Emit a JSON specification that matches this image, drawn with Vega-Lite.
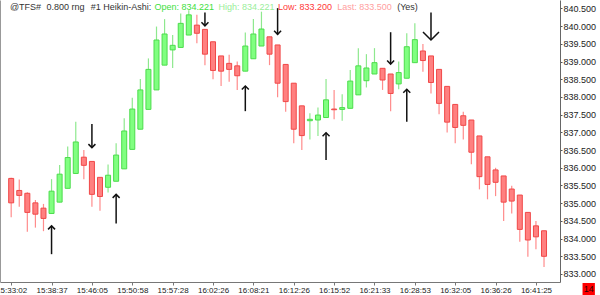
{
  "$schema": "https://vega.github.io/schema/vega-lite/v6.json",
  "width": 560,
  "height": 282,
  "autosize": {"type": "none"},
  "padding": {"left": 0, "top": 0, "right": 40, "bottom": 13},
  "background": "white",
  "config": {"view": {"stroke": null}, "font": "Liberation Sans"},
  "datasets": {
    "bars": [
      {"i":0,"o":835.70,"h":835.72,"l":834.60,"c":835.01},
      {"i":1,"o":835.36,"h":835.67,"l":834.90,"c":835.22},
      {"i":2,"o":835.28,"h":835.31,"l":834.19,"c":834.74},
      {"i":3,"o":835.01,"h":835.09,"l":834.31,"c":834.69},
      {"i":4,"o":834.86,"h":834.98,"l":834.21,"c":834.57},
      {"i":5,"o":834.71,"h":835.68,"l":834.71,"c":835.34},
      {"i":6,"o":835.03,"h":836.08,"l":835.03,"c":835.82},
      {"i":7,"o":835.42,"h":836.60,"l":835.42,"c":836.29},
      {"i":8,"o":835.84,"h":837.30,"l":835.84,"c":836.73},
      {"i":9,"o":836.30,"h":836.50,"l":835.68,"c":836.07},
      {"i":10,"o":836.18,"h":836.18,"l":834.90,"c":835.25},
      {"i":11,"o":835.73,"h":835.73,"l":834.79,"c":835.19},
      {"i":12,"o":835.45,"h":836.09,"l":835.30,"c":835.79},
      {"i":13,"o":835.62,"h":836.69,"l":835.62,"c":836.36},
      {"i":14,"o":835.97,"h":837.40,"l":835.97,"c":837.04},
      {"i":15,"o":836.52,"h":837.98,"l":836.52,"c":837.66},
      {"i":16,"o":837.09,"h":838.51,"l":837.09,"c":838.20},
      {"i":17,"o":837.65,"h":839.09,"l":837.65,"c":838.78},
      {"i":18,"o":838.20,"h":839.99,"l":838.20,"c":839.61},
      {"i":19,"o":838.90,"h":840.20,"l":838.90,"c":839.78},
      {"i":20,"o":839.33,"h":839.75,"l":838.82,"c":839.46},
      {"i":21,"o":839.40,"h":840.36,"l":839.40,"c":840.08},
      {"i":22,"o":839.75,"h":840.45,"l":839.75,"c":840.32},
      {"i":23,"o":840.03,"h":840.32,"l":839.52,"c":839.80},
      {"i":24,"o":839.91,"h":839.91,"l":838.90,"c":839.21},
      {"i":25,"o":839.56,"h":839.56,"l":838.50,"c":838.75},
      {"i":26,"o":839.16,"h":839.16,"l":838.31,"c":838.73},
      {"i":27,"o":838.95,"h":839.19,"l":838.43,"c":838.78},
      {"i":28,"o":838.88,"h":839.00,"l":838.20,"c":838.60},
      {"i":29,"o":838.73,"h":839.82,"l":838.73,"c":839.44},
      {"i":30,"o":839.08,"h":840.20,"l":839.08,"c":839.78},
      {"i":31,"o":839.44,"h":840.41,"l":839.44,"c":839.92},
      {"i":32,"o":839.70,"h":839.70,"l":838.90,"c":839.21},
      {"i":33,"o":839.47,"h":839.47,"l":837.99,"c":838.39},
      {"i":34,"o":838.92,"h":838.92,"l":837.58,"c":837.87},
      {"i":35,"o":838.39,"h":838.39,"l":836.69,"c":837.09},
      {"i":36,"o":837.75,"h":837.75,"l":836.50,"c":836.91},
      {"i":37,"o":837.33,"h":837.54,"l":836.80,"c":837.37},
      {"i":38,"o":837.35,"h":837.70,"l":836.90,"c":837.49},
      {"i":39,"o":837.42,"h":838.51,"l":837.42,"c":837.92},
      {"i":40,"o":837.66,"h":838.20,"l":837.37,"c":837.64},
      {"i":41,"o":837.65,"h":838.08,"l":837.33,"c":837.70},
      {"i":42,"o":837.68,"h":838.76,"l":837.68,"c":838.45},
      {"i":43,"o":838.06,"h":839.38,"l":838.06,"c":838.88},
      {"i":44,"o":838.46,"h":839.21,"l":838.27,"c":838.82},
      {"i":45,"o":838.65,"h":839.38,"l":838.65,"c":838.97},
      {"i":46,"o":838.81,"h":838.81,"l":838.20,"c":838.48},
      {"i":47,"o":838.65,"h":838.65,"l":837.60,"c":838.10},
      {"i":48,"o":838.37,"h":839.00,"l":838.22,"c":838.69},
      {"i":49,"o":838.53,"h":839.80,"l":838.53,"c":839.42},
      {"i":50,"o":838.97,"h":840.08,"l":838.97,"c":839.62},
      {"i":51,"o":839.30,"h":839.50,"l":838.71,"c":839.03},
      {"i":52,"o":839.16,"h":839.16,"l":838.10,"c":838.41},
      {"i":53,"o":838.78,"h":838.78,"l":837.51,"c":837.82},
      {"i":54,"o":838.30,"h":838.30,"l":837.00,"c":837.29},
      {"i":55,"o":837.79,"h":837.79,"l":836.69,"c":837.14},
      {"i":56,"o":837.47,"h":837.58,"l":836.80,"c":837.20},
      {"i":57,"o":837.35,"h":837.35,"l":836.10,"c":836.44},
      {"i":58,"o":836.90,"h":836.90,"l":835.39,"c":835.75},
      {"i":59,"o":836.31,"h":836.31,"l":835.11,"c":835.53},
      {"i":60,"o":835.94,"h":836.00,"l":835.20,"c":835.59},
      {"i":61,"o":835.77,"h":835.77,"l":834.50,"c":835.03},
      {"i":62,"o":835.40,"h":835.49,"l":834.71,"c":835.06},
      {"i":63,"o":835.23,"h":835.23,"l":833.91,"c":834.26},
      {"i":64,"o":834.74,"h":834.74,"l":833.49,"c":833.96},
      {"i":65,"o":834.36,"h":834.50,"l":833.70,"c":834.05},
      {"i":66,"o":834.221,"h":834.221,"l":833.20,"c":833.50}
    ],
    "arrows": [
      {"i":5,"tail":833.56,"tip":834.36,"dir":"up","head":"small"},
      {"i":10,"tail":837.24,"tip":836.57,"dir":"down","head":"small"},
      {"i":13,"tail":834.43,"tip":835.25,"dir":"up","head":"small"},
      {"i":24,"tail":840.39,"tip":840.01,"dir":"down","head":"small"},
      {"i":29,"tail":837.60,"tip":838.31,"dir":"up","head":"small"},
      {"i":33,"tail":840.51,"tip":839.77,"dir":"down","head":"small"},
      {"i":39,"tail":836.22,"tip":836.99,"dir":"up","head":"small"},
      {"i":47,"tail":839.83,"tip":838.93,"dir":"down","head":"small"},
      {"i":49,"tail":837.30,"tip":838.22,"dir":"up","head":"small"},
      {"i":52,"tail":840.39,"tip":839.61,"dir":"down","head":"large"}
    ],
    "one": [{}]
  },
  "resolve": {"axis": {"y": "independent"}},
  "layer": [
    {
      "data": {"name": "bars"},
      "mark": {"type": "rule", "strokeWidth": 1.2},
      "encoding": {
        "x": {"field": "i", "type": "quantitative",
              "scale": {"domain": [-0.766, 67.36], "nice": false, "zero": false},
              "axis": {"values": [0,5,10,15,20,25,30,35,40,45,50,55,60,65],
                       "labelExpr": "['15:33:02','15:38:37','15:46:05','15:50:58','15:57:28','16:02:26','16:08:21','16:12:26','16:15:52','16:21:33','16:28:53','16:32:05','16:36:26','16:41:25'][round(datum.value/5)]",
                       "title": null, "grid": false, "labelFlush": false, "labelOverlap": false,
                       "labelFontSize": 8, "labelColor": "#222", "labelPadding": 1,
                       "tickSize": 3, "tickColor": "#777", "domainColor": "#777"}},
        "y": {"field": "l", "type": "quantitative",
              "scale": {"domain": [832.774, 840.74], "nice": false, "zero": false},
              "axis": {"orient": "right", "values": [833,833.5,834,834.5,835,835.5,836,836.5,837,837.5,838,838.5,839,839.5,840,840.5],
                       "format": ".3f", "title": null, "grid": false, "labelFontSize": 9, "labelColor": "#222",
                       "labelPadding": 1, "tickSize": 2, "tickColor": "#555", "domainColor": "#666"}},
        "y2": {"field": "h"},
        "color": {"condition": {"test": "datum.c >= datum.o", "value": "#8ee88e"}, "value": "#ff8c8c"}
      }
    },
    {
      "data": {"name": "bars"},
      "mark": {"type": "bar", "width": 5, "strokeWidth": 1},
      "encoding": {
        "x": {"field": "i", "type": "quantitative"},
        "y": {"field": "o", "type": "quantitative",
              "axis": {"orient": "left", "labels": false, "ticks": false, "grid": false, "title": null, "domainColor": "#999"}},
        "y2": {"field": "c"},
        "fill": {"condition": {"test": "datum.c >= datum.o", "value": "#80ff80"}, "value": "#ff8080"},
        "stroke": {"condition": {"test": "datum.c >= datum.o", "value": "#4cdc4c"}, "value": "#f04848"}
      }
    },
    {
      "data": {"name": "arrows"},
      "mark": {"type": "rule", "color": "#111", "strokeWidth": 1.5},
      "encoding": {
        "x": {"field": "i", "type": "quantitative"},
        "y": {"field": "tail", "type": "quantitative", "axis": null},
        "y2": {"field": "tip"}
      }
    },
    {
      "data": {"name": "arrows"},
      "mark": {"type": "point", "filled": false, "color": "#111", "strokeWidth": 1.5, "opacity": 1},
      "encoding": {
        "x": {"field": "i", "type": "quantitative"},
        "y": {"field": "tip", "type": "quantitative", "axis": null},
        "shape": {"field": "dir", "type": "nominal", "legend": null,
                  "scale": {"domain": ["down", "up"], "range": ["M-1,-1L0,0L1,-1", "M-1,1L0,0L1,1"]}},
        "size": {"field": "head", "type": "nominal", "legend": null,
                 "scale": {"domain": ["small", "large"], "range": [49, 256]}}
      }
    },
    {
      "data": {"name": "one"},
      "mark": {"type": "text", "fontSize": 9, "align": "left", "baseline": "alphabetic", "color": "#333"},
      "encoding": {"x": {"datum": -0.16, "type": "quantitative"}, "y": {"datum": 840.46, "type": "quantitative", "axis": null}, "text": {"value": "@TFS#"}}
    },
    {
      "data": {"name": "one"},
      "mark": {"type": "text", "fontSize": 9, "align": "left", "baseline": "alphabetic", "color": "#333"},
      "encoding": {"x": {"datum": 4.38, "type": "quantitative"}, "y": {"datum": 840.46, "type": "quantitative", "axis": null}, "text": {"value": "0.800 rng"}}
    },
    {
      "data": {"name": "one"},
      "mark": {"type": "text", "fontSize": 9, "align": "left", "baseline": "alphabetic", "color": "#333"},
      "encoding": {"x": {"datum": 9.85, "type": "quantitative"}, "y": {"datum": 840.46, "type": "quantitative", "axis": null}, "text": {"value": "#1 Heikin-Ashi:"}}
    },
    {
      "data": {"name": "one"},
      "mark": {"type": "text", "fontSize": 9, "align": "left", "baseline": "alphabetic", "color": "#3ee03e"},
      "encoding": {"x": {"datum": 17.76, "type": "quantitative"}, "y": {"datum": 840.46, "type": "quantitative", "axis": null}, "text": {"value": "Open: 834.221"}}
    },
    {
      "data": {"name": "one"},
      "mark": {"type": "text", "fontSize": 9, "align": "left", "baseline": "alphabetic", "color": "#9aee9a"},
      "encoding": {"x": {"datum": 25.67, "type": "quantitative"}, "y": {"datum": 840.46, "type": "quantitative", "axis": null}, "text": {"value": "High: 834.221"}}
    },
    {
      "data": {"name": "one"},
      "mark": {"type": "text", "fontSize": 9, "align": "left", "baseline": "alphabetic", "color": "#ff3838"},
      "encoding": {"x": {"datum": 33.05, "type": "quantitative"}, "y": {"datum": 840.46, "type": "quantitative", "axis": null}, "text": {"value": "Low: 833.200"}}
    },
    {
      "data": {"name": "one"},
      "mark": {"type": "text", "fontSize": 9, "align": "left", "baseline": "alphabetic", "color": "#ffa0a0"},
      "encoding": {"x": {"datum": 40.39, "type": "quantitative"}, "y": {"datum": 840.46, "type": "quantitative", "axis": null}, "text": {"value": "Last: 833.500"}}
    },
    {
      "data": {"name": "one"},
      "mark": {"type": "text", "fontSize": 9, "align": "left", "baseline": "alphabetic", "color": "#333"},
      "encoding": {"x": {"datum": 47.81, "type": "quantitative"}, "y": {"datum": 840.46, "type": "quantitative", "axis": null}, "text": {"value": "(Yes)"}}
    },
    {
      "data": {"name": "one"},
      "mark": {"type": "rect", "color": "#ff0000"},
      "encoding": {"x": {"datum": 70.77, "type": "quantitative"}, "x2": {"datum": 72.3}, "y": {"datum": 832.746, "type": "quantitative", "axis": null}, "y2": {"datum": 832.4}}
    },
    {
      "data": {"name": "one"},
      "mark": {"type": "text", "fontSize": 9, "align": "center", "baseline": "middle", "color": "#300"},
      "encoding": {"x": {"datum": 71.55, "type": "quantitative"}, "y": {"datum": 832.576, "type": "quantitative", "axis": null}, "text": {"value": "14"}}
    }
  ]
}
